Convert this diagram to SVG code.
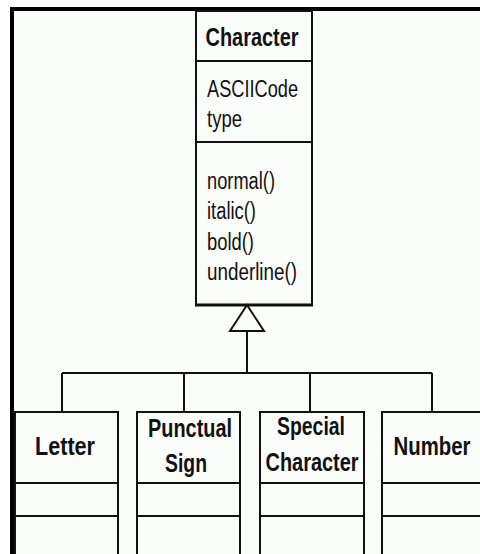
<svg xmlns="http://www.w3.org/2000/svg" width="480" height="554" viewBox="0 0 480 554">
<style>
.box{fill:none;stroke:#111;stroke-width:2}
.ln{fill:none;stroke:#111;stroke-width:2}
.name{font-family:"Liberation Sans",Arial,sans-serif;font-weight:bold;font-size:25px;fill:#111;text-anchor:middle}
.mem{font-family:"Liberation Sans",Arial,sans-serif;font-size:23px;fill:#111}
</style>
<rect x="0" y="0" width="480" height="554" fill="#ffffff"/>
<rect x="10" y="7" width="470" height="547" fill="#fbfdfb"/>
<rect x="10" y="7" width="470" height="4" fill="#000"/>
<rect x="10" y="7" width="4" height="547" fill="#000"/>
<g id="connectors">
<polygon points="247,305 230,331 264,331" fill="#fbfdfb" stroke="#111" stroke-width="2"/>
<path class="ln" d="M247,331 V373 M62,373 H432 M62,373 V412 M184,373 V412 M310,373 V412 M432,373 V412"/>
</g>
<g id="character">
<rect class="box" x="196" y="11" width="116" height="294"/>
<path class="ln" d="M196,61 H312 M196,142 H312"/>
<path d="M195,305 H313" stroke="#111" stroke-width="3"/>
<text class="name" x="252" y="46" textLength="93" lengthAdjust="spacingAndGlyphs">Character</text>
<text class="mem" x="207" y="97" textLength="91" lengthAdjust="spacingAndGlyphs">ASCIICode</text>
<text class="mem" x="207" y="127" textLength="35" lengthAdjust="spacingAndGlyphs">type</text>
<text class="mem" x="207" y="189" textLength="68" lengthAdjust="spacingAndGlyphs">normal()</text>
<text class="mem" x="207" y="219" textLength="49" lengthAdjust="spacingAndGlyphs">italic()</text>
<text class="mem" x="207" y="250" textLength="47" lengthAdjust="spacingAndGlyphs">bold()</text>
<text class="mem" x="207" y="280" textLength="90" lengthAdjust="spacingAndGlyphs">underline()</text>
</g>
<g id="letter">
<path class="ln" d="M15,560 V412 H118 V560 M15,483 H118 M15,516 H118"/>
<text class="name" x="65" y="455" textLength="60" lengthAdjust="spacingAndGlyphs">Letter</text>
</g>
<g id="punctual">
<path class="ln" d="M137,560 V412 H240 V560 M137,483 H240 M137,516 H240"/>
<text class="name" x="190" y="437" textLength="84" lengthAdjust="spacingAndGlyphs">Punctual</text>
<text class="name" x="186" y="472" textLength="42" lengthAdjust="spacingAndGlyphs">Sign</text>
</g>
<g id="special">
<path class="ln" d="M260,560 V412 H364 V560 M260,483 H364 M260,516 H364"/>
<text class="name" x="311" y="435" textLength="68" lengthAdjust="spacingAndGlyphs">Special</text>
<text class="name" x="312" y="471" textLength="93" lengthAdjust="spacingAndGlyphs">Character</text>
</g>
<g id="number">
<path class="ln" d="M382,560 V412 H490 M382,483 H490 M382,516 H490"/>
<text class="name" x="432" y="455" textLength="77" lengthAdjust="spacingAndGlyphs">Number</text>
</g>
</svg>
